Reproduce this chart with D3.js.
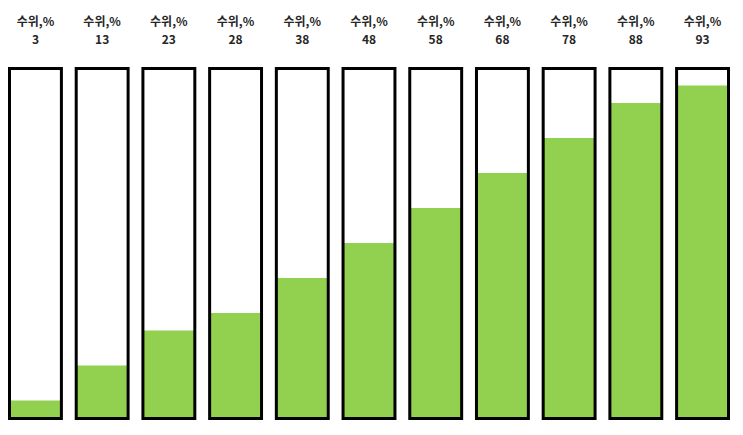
<!DOCTYPE html>
<html lang="ko">
<head>
<meta charset="UTF-8">
<title>수위</title>
<script src="https://d3js.org/d3.v7.min.js"></script>
<style>
    body { margin: 0; background: #fff; }
    .lbl { font-family: "Noto Sans CJK KR", "Noto Sans", sans-serif; font-size: 12px; font-weight: bold; fill: #262626; }
</style>
</head>
<body>
<div id="chart"></div>
<script>
    // tanks and their levels
    const tanks = ["T1", "T2", "T3", "T4", "T5", "T6", "T7", "T8", "T9", "T10", "T11"];
    const levels = [3, 13, 23, 28, 38, 48, 58, 68, 78, 88, 93];
    const labelName = "수위,%";

    const width = 743, height = 435;

    const svg = d3.select("#chart").append("svg")
        .attr("width", width)
        .attr("height", height);

    const x = d3.scaleBand()
        .domain(tanks)
        .range([9.5, 728.5])
        .paddingInner(0.222)
        .paddingOuter(0);

    const tankTop = 68.5, tankBottom = 418.5;
    // level scale (fill reaches slightly higher than the raw %)
    const y = d3.scaleLinear().domain([0, 100]).range([411, 61]);

    const g = svg.selectAll("g.tank")
        .data(tanks)
        .enter().append("g")
        .attr("class", "tank")
        .attr("transform", d => `translate(${x(d)},0)`);

    g.append("rect")
        .attr("x", 0)
        .attr("y", (d, i) => y(levels[i]))
        .attr("width", x.bandwidth())
        .attr("height", (d, i) => tankBottom - y(levels[i]))
        .attr("fill", "#92d050");

    g.append("rect")
        .attr("x", 0)
        .attr("y", tankTop)
        .attr("width", x.bandwidth())
        .attr("height", tankBottom - tankTop)
        .attr("fill", "none")
        .attr("stroke", "#000")
        .attr("stroke-width", 3);

    g.append("text")
        .attr("class", "lbl")
        .attr("x", x.bandwidth() / 2)
        .attr("y", 26)
        .attr("text-anchor", "middle")
        .text(labelName);

    g.append("text")
        .attr("class", "lbl")
        .attr("x", x.bandwidth() / 2)
        .attr("y", 44)
        .attr("text-anchor", "middle")
        .text((d, i) => levels[i]);
</script>
</body>
</html>
